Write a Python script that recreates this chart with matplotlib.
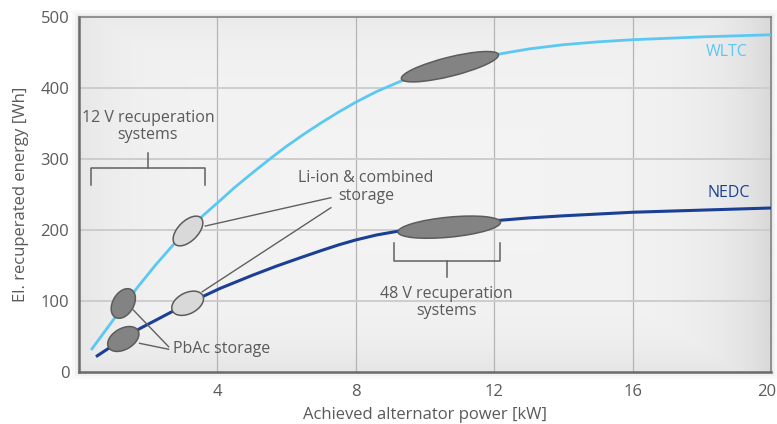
import numpy as np
import matplotlib
matplotlib.use("Agg")
import matplotlib.pyplot as plt
from matplotlib.patches import Ellipse, Rectangle
from matplotlib.colors import LinearSegmentedColormap
from matplotlib.transforms import ScaledTranslation

plt.rcParams['font.family'] = ['Open Sans', 'DejaVu Sans']

# curve data
wltc_x = [0.35, 1.0, 1.67, 2.2, 2.72, 3.0, 3.6, 4.09, 4.5, 5.0, 5.54, 6.0, 6.5,
          7.0, 7.5, 8.0, 8.6, 9.32, 10.0, 10.7, 11.4, 12.16, 13.0, 14.0, 15.0,
          16.0, 18.0, 20.0]
wltc_y = [31, 74, 118, 150, 179, 193, 221, 242, 260, 280, 301, 318, 335,
          351, 366, 380, 395, 410, 421, 431, 440, 448, 455, 461, 465,
          468, 472, 475]
nedc_x = [0.49, 1.0, 1.77, 2.69, 3.0, 3.65, 4.09, 5.0, 5.7, 6.4, 7.0, 7.5, 8.0,
          8.6, 9.3, 10.0, 10.7, 12.0, 13.0, 14.0, 16.0, 18.0, 20.0]
nedc_y = [21.6, 38, 61.5, 85, 92.5, 108, 118, 136, 149, 161, 171, 179, 186,
          193, 199, 203.5, 207, 213, 217, 220, 225, 228, 231]

x_ticks = [4, 8, 12, 16, 20]
y_ticks = [0, 100, 200, 300, 400, 500]

# storage ellipses: centre x, centre y, length px, thickness px, angle, dark?
ell_x = [3.15, 1.28, 1.28, 3.14, 10.72, 10.70]
ell_y = [198.6, 96.5, 46.5, 96.8, 430, 204]
ell_w = [37, 32, 34, 34, 100, 103]
ell_h = [20, 21, 21, 21, 19, 20]
ell_a = [45, 60, 30, 27, 14, 5.5]
ell_dark = [False, True, True, False, True, True]

WLTC_C = '#5bc8f4'
NEDC_C = '#1b3f95'
TXT = '#5a5a5a'
LINE = '#606060'

fig = plt.figure(figsize=(7.77, 4.24), dpi=100)
ax_box = [79 / 777, 52 / 424, 692 / 777, 355 / 424]

# faint glow around the plot area
for k, a in zip([7, 4, 2], [0.05, 0.07, 0.10]):
    fig.patches.append(Rectangle((ax_box[0] - k / 777, ax_box[1] - k / 424),
                                 ax_box[2] + 2 * k / 777, ax_box[3] + 2 * k / 424,
                                 transform=fig.transFigure, facecolor='#909090',
                                 edgecolor='none', alpha=a, zorder=-5))

ax = fig.add_axes(ax_box)

# soft gray background, a bit darker toward the edges (mostly the right one)
gx, gy = np.meshgrid(np.linspace(0, 1, 400), np.linspace(0, 1, 250))
v = np.maximum.reduce([gx ** 14, 0.45 * (1 - gx) ** 14,
                       0.55 * (1 - gy) ** 12, 0.35 * gy ** 12])
cmap = LinearSegmentedColormap.from_list('bg', ['#f3f3f3', '#d9d9d9'])
ax.imshow(v, extent=[0, 20, 0, 500], aspect='auto', cmap=cmap, vmin=0, vmax=1,
          zorder=0, interpolation='bilinear', origin='lower')

ax.set_xlim(0, 20)
ax.set_ylim(0, 500)
ax.set_axisbelow(True)
for x in x_ticks[:-1]:
    ax.axvline(x, color='#b5b5b5', lw=0.9, zorder=0.5)
for y in y_ticks[1:-1]:
    ax.axhline(y, color='#cdcdcd', lw=1.4, zorder=0.5)

ax.plot(wltc_x, wltc_y, color=WLTC_C, lw=2.0, zorder=3, solid_capstyle='butt')
ax.plot(nedc_x, nedc_y, color=NEDC_C, lw=2.2, zorder=3, solid_capstyle='butt')

for cx, cy, w, h, a, dk in zip(ell_x, ell_y, ell_w, ell_h, ell_a, ell_dark):
    tr = fig.dpi_scale_trans + ScaledTranslation(cx, cy, ax.transData)
    e = Ellipse((0, 0), w / 100, h / 100, angle=a, transform=tr,
                facecolor='#838383' if dk else '#d9d9d9',
                edgecolor='#5c5c5c', lw=1.1, zorder=5)
    ax.add_patch(e)

fs = 11.5
# 12 V bracket
ax.plot([0.35, 0.35, 3.65, 3.65], [263, 287, 287, 263], color=LINE, lw=1.1, zorder=4)
ax.plot([2.0, 2.0], [287, 308], color=LINE, lw=1.1, zorder=4)
ax.text(1.99, 346, '12 V recuperation\nsystems', ha='center', va='center',
        fontsize=fs, color=TXT, linespacing=1.1)

# 48 V bracket
ax.plot([9.11, 9.11, 12.17, 12.17], [181, 156, 156, 181], color=LINE, lw=1.1, zorder=4)
ax.plot([10.63, 10.63], [156, 134], color=LINE, lw=1.1, zorder=4)
ax.text(10.62, 98, '48 V recuperation\nsystems', ha='center', va='center',
        fontsize=fs, color=TXT, linespacing=1.1)

# Li-ion leaders
ax.plot([3.65, 7.28], [205.6, 245.5], color=LINE, lw=1.0, zorder=4)
ax.plot([3.56, 7.28], [113, 231.4], color=LINE, lw=1.0, zorder=4)
ax.text(8.29, 260.5, 'Li-ion & combined\nstorage', ha='center', va='center',
        fontsize=fs, color=TXT, linespacing=1.1)

# PbAc leaders
ax.plot([1.57, 2.59], [87.3, 35.6], color=LINE, lw=1.0, zorder=4)
ax.plot([1.75, 2.59], [40.4, 32], color=LINE, lw=1.0, zorder=4)
ax.text(2.72, 32, 'PbAc storage', ha='left', va='center', fontsize=fs, color=TXT)

ax.text(19.33, 450, 'WLTC', ha='right', va='center', fontsize=fs, color=WLTC_C)
ax.text(19.39, 252.5, 'NEDC', ha='right', va='center', fontsize=fs, color=NEDC_C)

ax.set_xticks(x_ticks)
ax.set_yticks(y_ticks)
ax.tick_params(length=0, labelsize=12, labelcolor=TXT)
ax.tick_params(axis='y', pad=7)
ax.tick_params(axis='x', pad=9)
ax.set_xlabel('Achieved alternator power [kW]', fontsize=12, color=TXT, labelpad=5)
ax.set_ylabel('El. recuperated energy [Wh]', fontsize=12, color=TXT, labelpad=8)

# keep the last x label inside the figure
last = ax.get_xticklabels()[-1]
last.set_transform(last.get_transform() + ScaledTranslation(-4 / 100, 0, fig.dpi_scale_trans))

for s in ['left', 'bottom']:
    ax.spines[s].set_color('#6a6a6a')
    ax.spines[s].set_linewidth(1.8)
for s in ['top', 'right']:
    ax.spines[s].set_color('#7a7a7a')
    ax.spines[s].set_linewidth(1.1)

fig.savefig('out.png', dpi=100)
